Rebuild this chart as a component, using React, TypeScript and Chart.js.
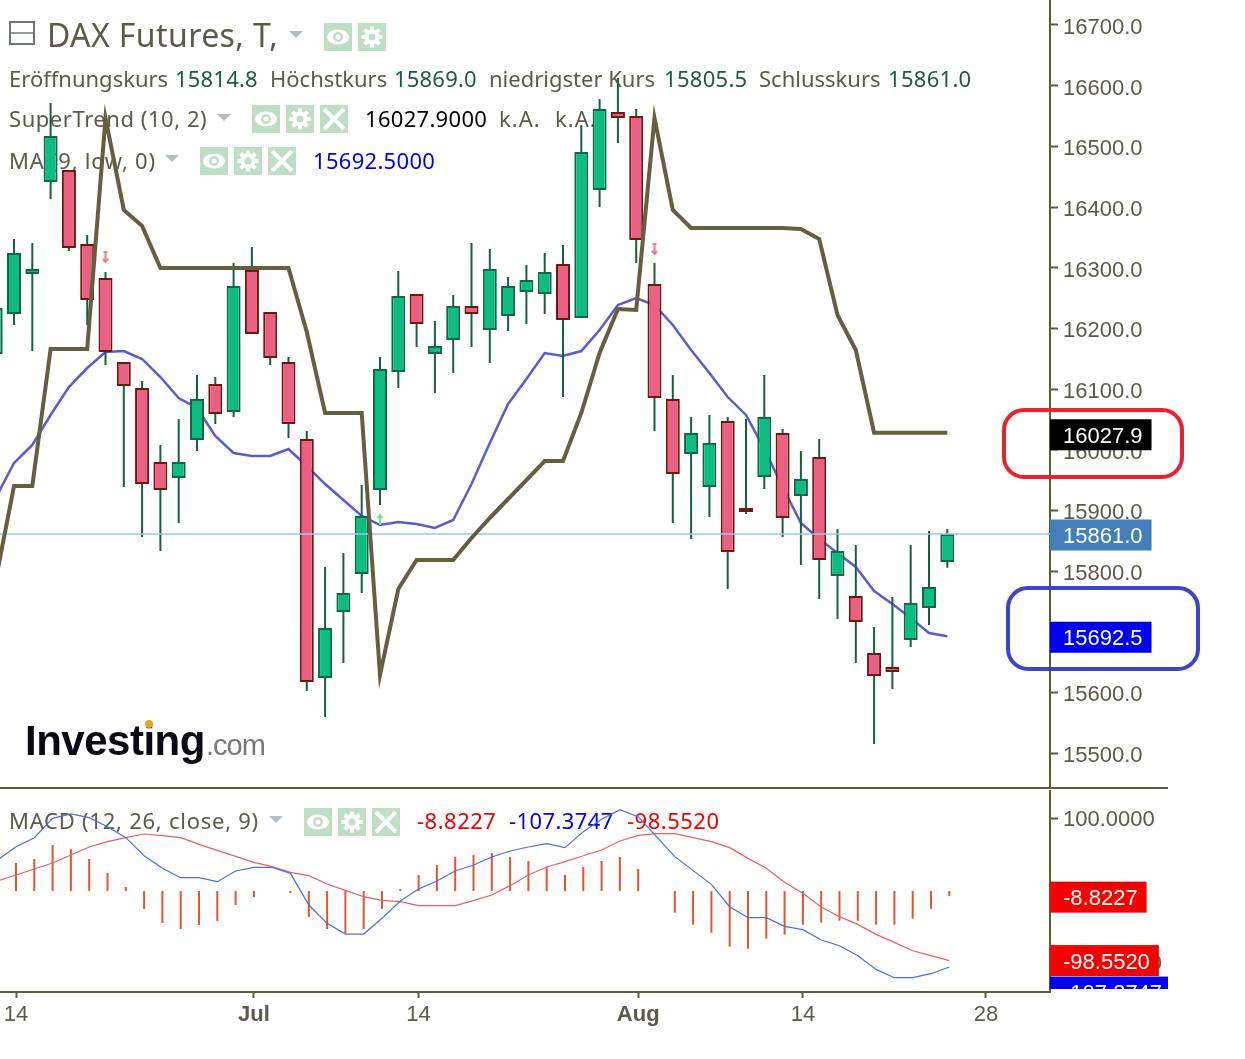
// DAX Futures daily chart with SuperTrend, MA and a MACD pane below
import React, { useRef, useEffect } from 'react';
import { Chart, registerables } from 'chart.js';

Chart.register(...registerables);

// candles, the first one is cut off by the left edge
const candleOpen = [16157.7, 16223.6, 16289.6, 16441.2, 16461, 16339, 16283, 16144.5, 16101.7, 15979.7, 15953.3, 16015.9, 16108.3, 16062.1, 16296.2, 16226.9, 16144.5, 16017.6, 15623.7, 15732.4, 15795.1, 15933.5, 16128, 16256.6, 16157.7, 16180.8, 16236.8, 16197.3, 16220.3, 16259.9, 16256.6, 16306, 16217, 16428, 16556.6, 16550, 16273.1, 16083.5, 15992.9, 15938.5, 16047.3, 15903.9, 15955, 16027.5, 15923.6, 15987.9, 15791.8, 15758.8, 15664.9, 15641.8, 15686.3, 15739, 15814.8];
const candleHigh = [16246.7, 16347.3, 16340.7, 16571.4, 16461, 16353.8, 16292.9, 16144.5, 16113.2, 16007.7, 16050.6, 16123.1, 16119.8, 16307.7, 16334.1, 16226.9, 16152.8, 16030.8, 15806.6, 15829.7, 15941.8, 16152.8, 16294.5, 16256.6, 16212.1, 16255, 16340.7, 16330.8, 16284.6, 16304.4, 16324.2, 16337.4, 16535.2, 16578, 16612.6, 16561.5, 16307.7, 16123.1, 16053.9, 16057.2, 16053.9, 16050.6, 16123.1, 16034.1, 15997.8, 16017.6, 15869.3, 15842.9, 15707.7, 15757.2, 15842.9, 15866, 15869];
const candleLow = [16147.8, 16205.5, 16162.6, 16413.2, 16327.5, 16205.5, 16139.6, 15938.5, 15856.1, 15833, 15879.2, 15997.8, 16042.3, 16053.9, 16190.7, 16139.6, 16019.2, 15602.2, 15559.4, 15648.4, 15763.8, 15908.8, 16101.7, 16169.2, 16093.4, 16126.4, 16169.2, 16142.9, 16195.6, 16207.2, 16223.6, 16086.8, 16217, 16400, 16505.5, 16307.7, 16030.8, 15879.2, 15852.8, 15889, 15770.4, 15894, 15935.2, 15856.1, 15809.9, 15753.9, 15720.9, 15648.4, 15514.9, 15605.5, 15674.8, 15711, 15805.5];
const candleClose = [16233.5, 16324.2, 16297.8, 16517, 16332.4, 16246.7, 16161, 16105, 15943.4, 15933.5, 15979.7, 16083.5, 16058.8, 16269.8, 16190.7, 16151.1, 16042.3, 15617.1, 15706.1, 15763.8, 15890.7, 16133, 16253.3, 16207.2, 16170.9, 16236.8, 16223.6, 16297.8, 16269.8, 16279.7, 16292.9, 16213.7, 16490.7, 16561.5, 16546.7, 16345.6, 16085.2, 15959.9, 16027.5, 16011, 15831.3, 15897.3, 16053.9, 15887.4, 15951.7, 15818.2, 15833, 15716, 15626.9, 15633.5, 15747.3, 15773.6, 15861];
const superTrend = [15785.2, 15940.1, 15940.1, 16165.9, 16165.9, 16165.9, 16546.7, 16395.1, 16368.7, 16299.5, 16299.5, 16299.5, 16299.5, 16299.5, 16299.5, 16299.5, 16299.5, 16194, 16060.5, 16060.5, 16060.5, 15628.6, 15770.4, 15818.2, 15818.2, 15818.2, 15854.4, 15887.4, 15918.7, 15950, 15981.3, 15981.3, 16060.5, 16159.3, 16231.9, 16230.2, 16546.7, 16395.1, 16365.4, 16365.4, 16365.4, 16365.4, 16365.4, 16365.4, 16363.7, 16347.3, 16222, 16164.3, 16027.9, 16027.9, 16027.9, 16027.9, 16027.9];
const movingAvg = [15920.3, 15978, 16007.7, 16057.2, 16103.3, 16134.6, 16161, 16162.6, 16149.5, 16119.8, 16085.2, 16068.7, 16022.5, 15994.5, 15989.6, 15989.6, 16001.1, 15973.1, 15943.4, 15917, 15890.7, 15875.8, 15880.8, 15877.5, 15870.9, 15884.1, 15943.4, 16011, 16075.3, 16116.5, 16159.3, 16154.4, 16162.6, 16197.3, 16238.5, 16250, 16238.5, 16205.5, 16164.3, 16126.4, 16086.8, 16057.2, 16001.1, 15938.5, 15879.2, 15852.8, 15829.7, 15806.6, 15767, 15745.6, 15722.5, 15697.8, 15692.5];

// MACD pane, same days as the candles
const macdLine = [41.5, 60.1, 72.6, 99.5, 105.6, 100.5, 87.9, 72.6, 47.5, 29.9, 16.9, 16.9, 11.3, 26.2, 31.3, 31.3, 22.9, -21.2, -46.7, -61.6, -61.6, -39.7, -15.6, 1.1, 12.3, 26.2, 34.5, 45.7, 54, 59.6, 64.3, 58.7, 81, 98.2, 111.6, 101.9, 74, 46.2, 26.7, 7.6, -23.5, -38.8, -38.8, -50.9, -55.5, -69.9, -77.8, -91.7, -110.8, -122.4, -122.4, -116.8, -107.4];
const signalLine = [12.3, 20.6, 29, 37.4, 48.5, 59.6, 67.1, 72.6, 77.7, 75.4, 72.6, 63.3, 55, 46.6, 38.2, 32.2, 24.3, 19.7, 8.1, -0.7, -9.6, -14.7, -16.5, -22.1, -22.1, -22.1, -15.1, -7.2, 5.8, 20.6, 31.8, 39.2, 47.5, 55.4, 68, 75.9, 78.2, 78.2, 72.6, 67.1, 58.7, 43.8, 29.9, 10.4, -4.9, -24, -37.4, -48.1, -62, -73.2, -84.8, -91.7, -98.55];
const histogram = [null, 37.3, 42.9, 62.4, 56.8, 42.9, 23.4, 3.9, -26.7, -46.2, -54.6, -49, -43.5, -21.2, -10, null, -4.5, -37.9, -54.6, -60.2, -54.6, -26.7, 1.1, 20.6, 34.5, 45.7, 48.5, 51.3, 45.7, 40.1, 31.8, 20.6, 31.8, 40.1, 45.7, 29, null, -31.9, -48.6, -59.8, -79.2, -82, -68.1, -62.5, -48.6, -45.8, -43, -43, -48.6, -48.6, -40.3, -26.3, -8.8];

const priceTicks = [16700, 16600, 16500, 16400, 16300, 16200, 16100, 16000, 15900, 15800, 15700, 15600, 15500];
const macdTicks = [100, -100];
const xTickDays = [0, 13, 22, 34, 43, 53];
const xTickLabels = ['14', 'Jul', '14', 'Aug', '14', '28'];
const boldXLabels = ['Jul', 'Aug'];

const lastClose = 15861;
const lastSuperTrend = 16027.9;
const lastMa = 15692.5;
const lastHist = -8.8227;
const lastSignal = -98.552;
const lastMacd = -107.3747;

const sellMarkerDays = [5, 35];
const sellMarkerPrices = [16317.6, 16330.8];
const buyMarkerDays = [20];
const buyMarkerPrices = [15884];

const days = candleOpen.map((_, n) => n - 1);

const OLIVE = '#5f5a3c';
const LABEL = '#5c5a48';
const VALUE_GREEN = '#1c5c42';
const ICON_BG = '#bfdfc4';
const TEXT_FONT = '"Noto Sans"';
const AXIS_FONT = '"Liberation Sans"';

const fixArea = (w: number | null, h: number | null) => (s: any) => {
  if (w !== null) s.width = w;
  if (h !== null) s.height = h;
  s.paddingTop = 0;
  s.paddingBottom = 0;
  s.paddingLeft = 0;
  s.paddingRight = 0;
};

function text(ctx: any, s: string, x: number, y: number, color: string, font: string, spacing = 0) {
  ctx.font = font;
  ctx.fillStyle = color;
  ctx.textAlign = 'left';
  ctx.textBaseline = 'alphabetic';
  ctx.letterSpacing = `${spacing}px`;
  ctx.fillText(s, x, y);
  ctx.letterSpacing = '0px';
}

function triangle(ctx: CanvasRenderingContext2D, x: number, y: number) {
  ctx.fillStyle = '#b4bcc4';
  ctx.beginPath();
  ctx.moveTo(x, y);
  ctx.lineTo(x + 14, y);
  ctx.lineTo(x + 7, y + 7);
  ctx.closePath();
  ctx.fill();
}

function iconEye(ctx: CanvasRenderingContext2D, x: number, y: number) {
  ctx.fillStyle = ICON_BG;
  ctx.fillRect(x, y, 28, 28);
  ctx.fillStyle = '#fff';
  ctx.beginPath();
  ctx.ellipse(x + 14, y + 14, 11, 7.5, 0, 0, Math.PI * 2);
  ctx.fill();
  ctx.fillStyle = ICON_BG;
  ctx.beginPath();
  ctx.arc(x + 14, y + 14, 5, 0, Math.PI * 2);
  ctx.fill();
  ctx.fillStyle = '#fff';
  ctx.beginPath();
  ctx.arc(x + 14, y + 14, 2.5, 0, Math.PI * 2);
  ctx.fill();
}

function iconGear(ctx: CanvasRenderingContext2D, x: number, y: number) {
  ctx.fillStyle = ICON_BG;
  ctx.fillRect(x, y, 28, 28);
  ctx.strokeStyle = '#fff';
  ctx.lineWidth = 4;
  for (let k = 0; k < 8; k++) {
    const a = (k * Math.PI) / 4;
    ctx.beginPath();
    ctx.moveTo(x + 14, y + 14);
    ctx.lineTo(x + 14 + Math.cos(a) * 10.5, y + 14 + Math.sin(a) * 10.5);
    ctx.stroke();
  }
  ctx.fillStyle = '#fff';
  ctx.beginPath();
  ctx.arc(x + 14, y + 14, 7.5, 0, Math.PI * 2);
  ctx.fill();
  ctx.fillStyle = ICON_BG;
  ctx.beginPath();
  ctx.arc(x + 14, y + 14, 3.5, 0, Math.PI * 2);
  ctx.fill();
}

function iconClose(ctx: CanvasRenderingContext2D, x: number, y: number) {
  ctx.fillStyle = ICON_BG;
  ctx.fillRect(x, y, 28, 28);
  ctx.strokeStyle = '#fff';
  ctx.lineWidth = 4;
  ctx.beginPath();
  ctx.moveTo(x + 4, y + 4);
  ctx.lineTo(x + 24, y + 24);
  ctx.moveTo(x + 24, y + 4);
  ctx.lineTo(x + 4, y + 24);
  ctx.stroke();
}

function valueTag(ctx: CanvasRenderingContext2D, label: string, y: number, bg: string) {
  ctx.font = `22px ${AXIS_FONT}`;
  const w = Math.min(ctx.measureText(label).width + 22, 118);
  ctx.fillStyle = bg;
  ctx.fillRect(1050, y - 15.5, w, 31);
  text(ctx, label, 1063, y + 8, '#fff', `22px ${AXIS_FONT}`);
}

const priceDecor = {
  id: 'priceDecor',
  beforeDatasetsDraw(chart: any) {
    const { ctx } = chart;
    ctx.save();
    // title row
    ctx.strokeStyle = '#6d7672';
    ctx.lineWidth = 2;
    ctx.strokeRect(10, 22, 24, 22);
    ctx.lineWidth = 1.5;
    ctx.beginPath();
    ctx.moveTo(10, 33);
    ctx.lineTo(34, 33);
    ctx.stroke();
    text(ctx, 'DAX Futures, T,', 47, 47, LABEL, `32px ${TEXT_FONT}`, 0.4);
    triangle(ctx, 289, 31);
    iconEye(ctx, 324, 23);
    iconGear(ctx, 358, 23);

    // ohlc row
    const rowFont = `22px ${TEXT_FONT}`;
    text(ctx, 'Eröffnungskurs', 9, 87, LABEL, rowFont);
    text(ctx, '15814.8', 175, 87, VALUE_GREEN, rowFont, 0.2);
    text(ctx, 'Höchstkurs', 270, 87, LABEL, rowFont);
    text(ctx, '15869.0', 394, 87, VALUE_GREEN, rowFont, 0.2);
    text(ctx, 'niedrigster Kurs', 489, 87, LABEL, rowFont);
    text(ctx, '15805.5', 664, 87, VALUE_GREEN, rowFont, 0.3);
    text(ctx, 'Schlusskurs', 759, 87, LABEL, rowFont);
    text(ctx, '15861.0', 888, 87, VALUE_GREEN, rowFont, 0.3);

    // indicator rows
    text(ctx, 'SuperTrend (10, 2)', 9, 127, LABEL, rowFont, 0.55);
    triangle(ctx, 217, 114);
    iconEye(ctx, 252, 105);
    iconGear(ctx, 286, 105);
    iconClose(ctx, 320, 105);
    text(ctx, '16027.9000', 365, 127, '#000', rowFont, 0.3);
    text(ctx, 'k.A.', 499, 127, LABEL, rowFont, 1);
    text(ctx, 'k.A.', 555, 127, LABEL, rowFont, 1);

    text(ctx, 'MA (9, low, 0)', 9, 169, LABEL, rowFont, 0.75);
    triangle(ctx, 165, 155);
    iconEye(ctx, 200, 147);
    iconGear(ctx, 234, 147);
    iconClose(ctx, 268, 147);
    text(ctx, '15692.5000', 313, 169, '#0000ee', rowFont, 0.3);

    // logo
    text(ctx, 'Investing', 25, 755, '#0a0a12', `bold 42px ${AXIS_FONT}`, -0.5);
    text(ctx, '.com', 206, 755, '#77787c', `29px ${AXIS_FONT}`, -1);
    ctx.fillStyle = '#e5a51c';
    ctx.beginPath();
    ctx.arc(149, 724, 4, 0, Math.PI * 2);
    ctx.fill();
    ctx.restore();
  },
  afterDatasetsDraw(chart: any) {
    const { ctx, scales } = chart;
    ctx.save();
    sellMarkerDays.forEach((d, k) => {
      const x = scales.x.getPixelForValue(d);
      const y = scales.y.getPixelForValue(sellMarkerPrices[k]);
      ctx.strokeStyle = '#f07a92';
      ctx.lineWidth = 2;
      ctx.beginPath();
      ctx.moveTo(x - 2, y - 5);
      ctx.lineTo(x + 2, y - 5);
      ctx.moveTo(x, y - 5);
      ctx.lineTo(x, y + 5);
      ctx.moveTo(x - 2.5, y + 2);
      ctx.lineTo(x, y + 5);
      ctx.lineTo(x + 2.5, y + 2);
      ctx.stroke();
    });
    buyMarkerDays.forEach((d, k) => {
      const x = scales.x.getPixelForValue(d);
      const y = scales.y.getPixelForValue(buyMarkerPrices[k]);
      ctx.strokeStyle = '#86dc94';
      ctx.lineWidth = 2;
      ctx.beginPath();
      ctx.moveTo(x, y + 5);
      ctx.lineTo(x, y - 5);
      ctx.moveTo(x - 2.5, y - 2);
      ctx.lineTo(x, y - 5);
      ctx.lineTo(x + 2.5, y - 2);
      ctx.stroke();
    });
    ctx.restore();
  },
  afterDraw(chart: any) {
    const { ctx, scales } = chart;
    ctx.save();
    valueTag(ctx, lastSuperTrend.toFixed(1), scales.y.getPixelForValue(lastSuperTrend) + 2, '#000');
    valueTag(ctx, lastClose.toFixed(1), scales.y.getPixelForValue(lastClose) + 1, '#4380ba');
    valueTag(ctx, lastMa.toFixed(1), scales.y.getPixelForValue(lastMa) + 1, '#0000f0');

    // hand drawn marks around the two values
    ctx.lineWidth = 4;
    ctx.strokeStyle = '#ea222e';
    ctx.beginPath();
    ctx.roundRect(1004, 410, 178, 67, 20);
    ctx.stroke();
    ctx.strokeStyle = '#3a46c8';
    ctx.beginPath();
    ctx.roundRect(1008, 588, 190, 81, 20);
    ctx.stroke();

    // pane divider
    ctx.strokeStyle = OLIVE;
    ctx.lineWidth = 2;
    ctx.beginPath();
    ctx.moveTo(0, 788);
    ctx.lineTo(1168, 788);
    ctx.stroke();
    ctx.restore();
  },
};

const macdDecor = {
  id: 'macdDecor',
  beforeDatasetsDraw(chart: any) {
    const { ctx } = chart;
    ctx.save();
    const font = `22px ${TEXT_FONT}`;
    text(ctx, 'MACD (12, 26, close, 9)', 9, 39, LABEL, font, 0.75);
    triangle(ctx, 269, 26);
    iconEye(ctx, 304, 18);
    iconGear(ctx, 338, 18);
    iconClose(ctx, 372, 18);
    text(ctx, '-8.8227', 417, 39, '#f00000', font, 0.5);
    text(ctx, '-107.3747', 509, 39, '#0000ee', font, 0.4);
    text(ctx, '-98.5520', 627, 39, '#f00000', font, 0.5);
    ctx.restore();
  },
  afterDraw(chart: any) {
    const { ctx, scales } = chart;
    ctx.save();
    ctx.beginPath();
    ctx.rect(1050, 0, 195, 199);
    ctx.clip();
    const signalY = scales.y.getPixelForValue(lastSignal);
    // the blue tag gets pushed under the red one
    valueTag(ctx, lastMacd.toFixed(4), signalY + 31.5, '#0000f0');
    valueTag(ctx, lastHist.toFixed(4), scales.y.getPixelForValue(lastHist) + 1, '#f50000');
    valueTag(ctx, lastSignal.toFixed(4), signalY, '#f50000');
    ctx.restore();
  },
};

const rightTicks = (values: number[], digits: number, offset: number) => ({
  afterBuildTicks: (s: any) => {
    s.ticks = values.map((value) => ({ value }));
  },
  ticks: {
    autoSkip: false,
    color: LABEL,
    padding: 5,
    labelOffset: offset,
    font: { family: AXIS_FONT, size: 22 },
    callback: (v: any) => Number(v).toFixed(digits),
  },
  grid: { drawOnChartArea: false, tickLength: 8, tickColor: OLIVE, tickWidth: 2 },
  border: { color: OLIVE, width: 2 },
});

const App: React.FC = () => {
  const priceRef = useRef<HTMLCanvasElement>(null);
  const macdRef = useRef<HTMLCanvasElement>(null);

  useEffect(() => {
    if (!priceRef.current || !macdRef.current) return;

    const isUp = days.map((_, n) => candleClose[n] >= candleOpen[n]);

    const priceChart = new Chart(priceRef.current, {
      type: 'bar',
      data: {
        datasets: [
          {
            type: 'line',
            data: days.map((d, n) => ({ x: d, y: movingAvg[n] })),
            borderColor: '#5b5ccc',
            borderWidth: 2.5,
            pointRadius: 0,
            order: 4,
          },
          {
            data: days.map((d, n) => ({ x: d, y: [candleLow[n], candleHigh[n]] })),
            backgroundColor: '#14603f',
            barThickness: 2,
            grouped: false,
            inflateAmount: 0,
            order: 3,
          },
          {
            data: days.map((d, n) => ({ x: d, y: [candleOpen[n], candleClose[n]] })),
            backgroundColor: isUp.map((u) => (u ? '#0bbd80' : '#ea5f82')),
            borderColor: isUp.map((u) => (u ? '#14664a' : '#6b1a0e')),
            borderWidth: 2,
            borderSkipped: false,
            barThickness: 14,
            grouped: false,
            inflateAmount: 0,
            order: 2,
          },
          {
            type: 'line',
            data: [
              { x: -2, y: lastClose },
              { x: 57, y: lastClose },
            ],
            borderColor: '#9cc4ee',
            borderWidth: 1.5,
            pointRadius: 0,
            order: 1,
          },
          {
            type: 'line',
            data: days.map((d, n) => ({ x: d, y: superTrend[n] })),
            borderColor: '#655f3f',
            borderWidth: 4,
            pointRadius: 0,
            order: 0,
          },
        ],
      } as any,
      options: {
        animation: false,
        responsive: false,
        devicePixelRatio: 1,
        layout: { padding: { bottom: 3 } },
        plugins: { legend: { display: false }, tooltip: { enabled: false } },
        scales: {
          x: {
            type: 'linear',
            min: -14 / 18.3,
            max: 1036 / 18.3,
            offset: false,
            display: false,
            grid: { offset: false },
          },
          y: {
            position: 'right',
            min: 15444,
            max: 16741.2,
            afterFit: fixArea(195, null),
            ...rightTicks(priceTicks, 1, 3),
          },
        },
      } as any,
      plugins: [priceDecor],
    });

    const macdChart = new Chart(macdRef.current, {
      type: 'bar',
      data: {
        datasets: [
          {
            data: days.map((d, n) => ({ x: d, y: histogram[n] })),
            backgroundColor: '#e2562f',
            barThickness: 2,
            inflateAmount: 0,
            base: -1.7,
            order: 3,
          },
          {
            type: 'line',
            data: days.map((d, n) => ({ x: d, y: signalLine[n] })),
            borderColor: '#e0636a',
            borderWidth: 1.2,
            pointRadius: 0,
            order: 2,
          },
          {
            type: 'line',
            data: days.map((d, n) => ({ x: d, y: macdLine[n] })),
            borderColor: '#4d6fd8',
            borderWidth: 1.2,
            pointRadius: 0,
            order: 1,
          },
        ],
      } as any,
      options: {
        animation: false,
        responsive: false,
        devicePixelRatio: 1,
        plugins: { legend: { display: false }, tooltip: { enabled: false } },
        scales: {
          x: {
            type: 'linear',
            min: -16 / 18.3,
            max: 1034 / 18.3,
            offset: false,
            afterFit: fixArea(null, 67),
            afterBuildTicks: (s: any) => {
              s.ticks = xTickDays.map((value) => ({ value }));
            },
            ticks: {
              autoSkip: false,
              maxRotation: 0,
              color: LABEL,
              padding: 4,
              font: (c: any) => ({
                family: AXIS_FONT,
                size: 22,
                weight: boldXLabels.includes(xTickLabels[c.index]) ? 'bold' : 'normal',
              }),
              callback: (v: any) => xTickLabels[xTickDays.indexOf(Number(v))],
            },
            grid: { offset: false, drawOnChartArea: false, tickLength: 6, tickColor: OLIVE, tickWidth: 2 },
            border: { color: OLIVE, width: 2 },
          },
          y: {
            position: 'right',
            min: -142.3,
            max: 139,
            afterFit: fixArea(195, null),
            ...rightTicks(macdTicks, 4, 2),
          },
        },
      } as any,
      plugins: [macdDecor],
    });

    return () => {
      priceChart.destroy();
      macdChart.destroy();
    };
  }, []);

  return (
    <div style={{ position: 'absolute', left: 0, top: 0, width: 1245, height: 1059, background: '#fff', overflow: 'hidden' }}>
      <canvas ref={priceRef} width={1245} height={790} style={{ position: 'absolute', left: 0, top: 0 }} />
      <canvas ref={macdRef} width={1245} height={269} style={{ position: 'absolute', left: 0, top: 790 }} />
    </div>
  );
};

export default App;
